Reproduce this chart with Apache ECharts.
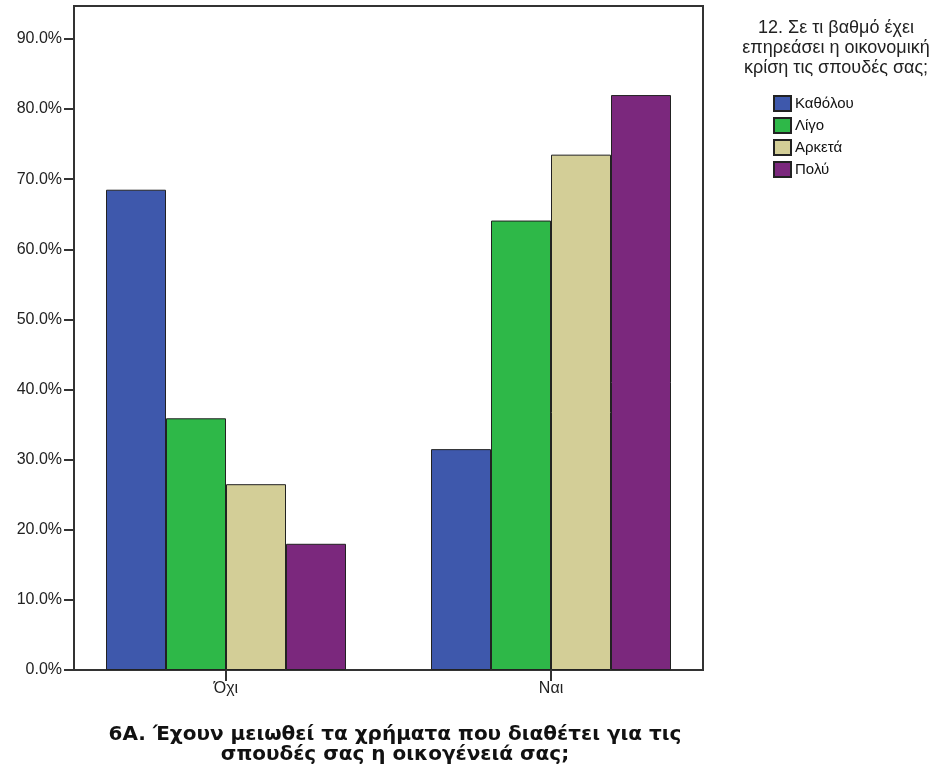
<!DOCTYPE html>
<html><head><meta charset="utf-8">
<script src="https://cdn.jsdelivr.net/npm/echarts@6/dist/echarts.min.js"></script>
<style>html,body{margin:0;padding:0;background:#fff}#c{width:933px;height:771px}</style>
</head><body><div id="c"></div>
<script>
const categories = ['Όχι', 'Ναι'];
const seriesNames = ['Καθόλου', 'Λίγο', 'Αρκετά', 'Πολύ'];
const katholou = [68.5, 31.5];
const ligo = [35.9, 64.1];
const arketa = [26.5, 73.5];
const poly = [18.0, 82.0];
const colors = ['#3e58ac', '#2eb848', '#d3ce97', '#7b287d'];
const yMax = 94.7;
const legendTitle = '12. Σε τι βαθμό έχει\nεπηρεάσει η οικονομική\nκρίση τις σπουδές σας;';
const xTitle = '6A. Έχουν μειωθεί τα χρήματα που διαθέτει για τις\nσπουδές σας η οικογένειά σας;';

const values = [katholou, ligo, arketa, poly];
const font = '"Liberation Sans", Arial, sans-serif';
const chart = echarts.init(document.getElementById('c'));
chart.setOption({
  animation: false,
  textStyle: { fontFamily: font },
  title: [
    { text: legendTitle, left: 831, top: 13, textAlign: 'center',
      textStyle: { fontSize: 18, fontWeight: 'normal', color: '#222', lineHeight: 20, fontFamily: font } },
    { text: xTitle, left: 390, top: 720, textAlign: 'center',
      textStyle: { fontSize: 20, fontWeight: 'bold', color: '#111', lineHeight: 20, fontFamily: '"DejaVu Sans", sans-serif' } }
  ],
  legend: {
    orient: 'vertical', left: 773, top: 95, padding: 0, icon: 'rect',
    itemWidth: 17, itemHeight: 15, itemGap: 5,
    textStyle: { fontSize: 15, color: '#111', padding: [0, 0, 0, -1] },
    data: seriesNames
  },
  grid: [
    { left: 74, right: 230, top: 6, bottom: 101, show: true, borderColor: '#333', borderWidth: 2, backgroundColor: 'transparent' },
    { left: 63.5, right: 219.5, top: 6, bottom: 101 }
  ],
  xAxis: [
    { type: 'category', gridIndex: 0, data: categories, show: false },
    { type: 'category', gridIndex: 1, data: categories,
      axisLine: { show: false },
      axisTick: { show: true, alignWithLabel: true, length: 11, lineStyle: { color: '#333', width: 2 } },
      axisLabel: { fontSize: 16, color: '#222', margin: 11 } }
  ],
  yAxis: [
    { type: 'value', gridIndex: 0, min: 0, max: yMax, interval: 10,
      splitLine: { show: false },
      axisLine: { show: true, lineStyle: { color: '#333', width: 2 } },
      axisTick: { show: true, length: 10, lineStyle: { color: '#333', width: 2 } },
      axisLabel: { fontSize: 16, color: '#222', margin: 12, showMaxLabel: false,
        formatter: v => (Math.abs(v % 10) < 1e-6 ? v.toFixed(1) + '%' : '') } },
    { type: 'value', gridIndex: 1, min: 0, max: yMax, interval: 10, show: false, splitLine: { show: false } }
  ],
  series: seriesNames.map((n, i) => ({
    name: n, type: 'bar', xAxisIndex: 1, yAxisIndex: 1,
    data: values[i], barWidth: 60, barGap: '0%',
    itemStyle: { color: colors[i], borderColor: '#222', borderWidth: 1 }
  }))
});
</script></body></html>
